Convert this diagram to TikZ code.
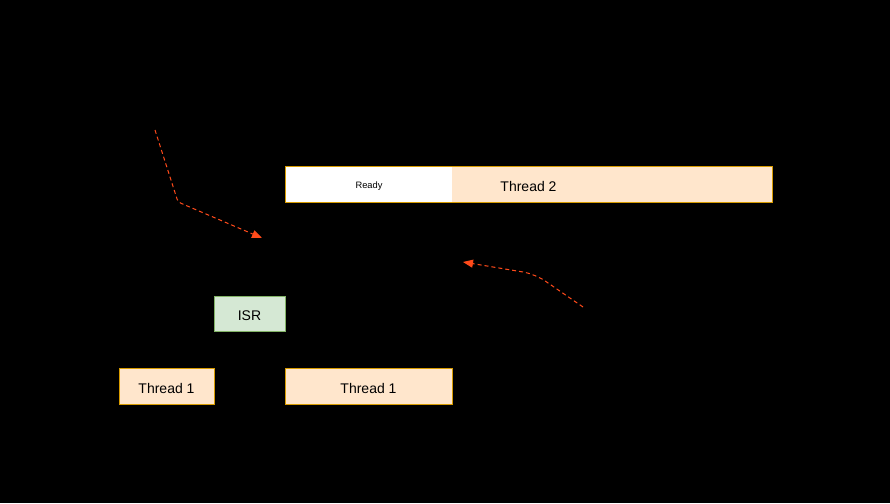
\documentclass[tikz,border=0pt]{standalone}
\usepackage{fontspec}
\setmainfont{Liberation Sans}
\usetikzlibrary{arrows.meta}

\definecolor{threadfill}{HTML}{FFE6CC}
\definecolor{threadline}{HTML}{D79B00}
\definecolor{isrfill}{HTML}{D5E8D4}
\definecolor{isrline}{HTML}{82B366}
\definecolor{wakeline}{HTML}{FF4A1A}

\begin{document}
\begin{tikzpicture}[x=1pt,y=-1pt,
 thread/.style={draw=threadline,fill=threadfill,line width=1pt,inner sep=0pt,
  minimum height=36pt,text height=14pt,text depth=0pt,
  font=\fontsize{14}{16}\selectfont},
 ready/.style={fill=white,inner sep=0pt,minimum height=35pt,
  text height=8.7pt,text depth=0pt,font=\fontsize{9.3}{11}\selectfont},
 isrbox/.style={thread,draw=isrline,fill=isrfill,minimum height=35pt},
 wake/.style={draw=wakeline,line width=1pt,dash pattern=on 4pt off 3pt,
  -{Triangle[length=10pt,width=8pt]}}]
 \fill[black] (0,0) rectangle (890,503);

% \tikzstyle{every node} = [thread]
 \node[thread,minimum width=487pt] (thread2) at (528.5,184) {Thread 2};
 \node[ready,minimum width=166pt] (ready) at (369,184) {Ready};
 \node[isrbox,minimum width=71pt] (isr) at (249.5,313.5) {ISR};
 \node[thread,minimum width=95pt] (threadone) at (166.5,386) {Thread 1};
 \node[thread,minimum width=167pt] (threadonemore) at (368.5,386) {Thread 1};

 \coordinate (irqtail) at (155,130);
 \coordinate (irqhead) at (262,238);
 \coordinate (backtail) at (583,307);
 \coordinate (backhead) at (463,262);

 \draw [wake,rounded corners=3pt] (irqtail) -- (178,202) -- (irqhead);
 \draw [wake,rounded corners=12pt] (backtail) -- (535,274) -- (backhead);
\end{tikzpicture}
\end{document}
